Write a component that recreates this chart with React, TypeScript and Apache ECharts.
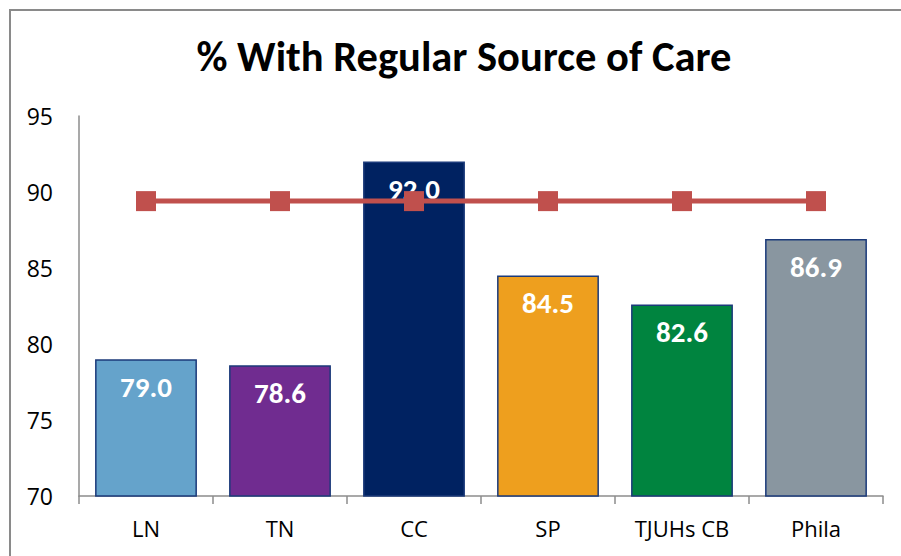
import React, { useEffect, useRef } from "react";
import * as echarts from "echarts";

const categories = ["LN", "TN", "CC", "SP", "TJUHs CB", "Phila"];
const values = [79.0, 78.6, 92.0, 84.5, 82.6, 86.9];
const barColors = ["#65A3CB", "#702C90", "#002261", "#EE9F1E", "#00843F", "#8996A0"];
const benchmark = [89.4, 89.4, 89.4, 89.4, 89.4, 89.4];
const yTicks = { min: 70, max: 95, interval: 5 };

const FONT = "Carlito, Lato, 'Liberation Sans', sans-serif";
const AXIS_FONT = "'Open Sans', 'Noto Sans', sans-serif";

export default function App() {
  const ref = useRef<HTMLDivElement>(null);
  useEffect(() => {
    if (!ref.current) return;
    const chart = echarts.init(ref.current, undefined, { renderer: "svg" });
    chart.setOption({
      animation: false,
      backgroundColor: "#ffffff",
      textStyle: { fontFamily: FONT },
      title: {
        text: "% With Regular Source of Care",
        left: 459,
        textAlign: "center",
        top: 30,
        textStyle: { fontFamily: FONT, fontWeight: "bold", fontSize: 42.5, color: "#000000" },
      },
      graphic: [
        {
          type: "polyline",
          shape: { points: [[10, 1000], [10, 10], [1000, 10]] },
          style: { stroke: "#8a8a8a", lineWidth: 2, fill: "none" },
          silent: true,
        },
      ],
      grid: { left: 79, right: 18, top: 116, bottom: 60 },
      xAxis: {
        type: "category",
        data: categories,
        axisLine: { show: true, lineStyle: { color: "#8c8c8c", width: 1.5 } },
        axisTick: { show: true, interval: 0, alignWithLabel: false, length: 8, lineStyle: { color: "#8c8c8c", width: 1.5 } },
        axisLabel: { color: "#000000", fontSize: 22, fontWeight: "normal", fontFamily: AXIS_FONT, margin: 21, interval: 0 },
        splitLine: { show: false },
      },
      yAxis: {
        type: "value",
        min: yTicks.min,
        max: yTicks.max,
        interval: yTicks.interval,
        axisLine: { show: true, lineStyle: { color: "#8c8c8c", width: 1.5 } },
        axisTick: { show: false },
        axisLabel: { color: "#000000", fontSize: 23, fontWeight: "normal", fontFamily: AXIS_FONT, margin: 26 },
        splitLine: { show: false },
      },
      series: [
        {
          type: "bar",
          barWidth: "76%",
          data: values.map((v, i) => ({
            value: v,
            itemStyle: { color: barColors[i], borderColor: "#1B3A7A", borderWidth: 1.5 },
          })),
          label: {
            show: true,
            position: "insideTop",
            distance: 13,
            color: "#ffffff",
            fontWeight: "bold",
            fontSize: 29,
            fontFamily: FONT,
            formatter: (p: any) => Number(p.value).toFixed(1),
          },
          z: 2,
        },
        {
          type: "line",
          data: benchmark,
          symbol: "rect",
          symbolSize: 20,
          lineStyle: { color: "#C0504D", width: 5 },
          itemStyle: { color: "#C0504D" },
          label: { show: false },
          z: 3,
        },
      ],
    });
    return () => chart.dispose();
  }, []);
  return (
    <div
      ref={ref}
      style={{ position: "fixed", left: 0, top: 0, width: 901, height: 556 }}
    />
  );
}
